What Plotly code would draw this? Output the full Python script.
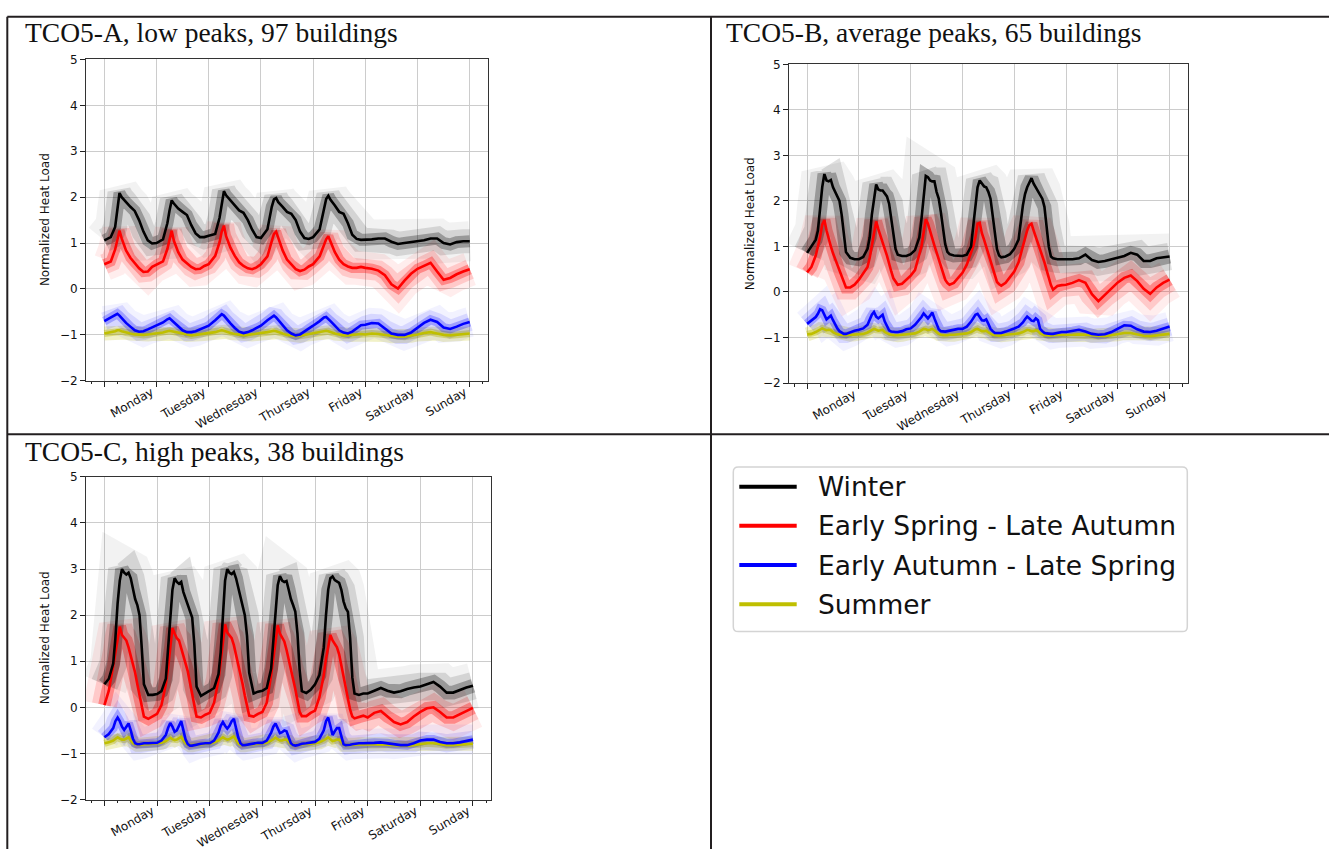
import plotly.graph_objects as go

W, H = 1329, 856

# ---------------- data ----------------
SEASONS = ["Winter", "Early Spring - Late Autumn", "Early Autumn - Late Spring", "Summer"]
DAY_TICKS = [0, 24, 48, 72, 96, 120, 144, 168]
DAY_LABELS = ["", "Monday", "Tuesday", "Wednesday", "Thursday", "Friday", "Saturday", "Sunday"]
Y_TICKS = [-2, -1, 0, 1, 2, 3, 4, 5]
TITLES = ["TCO5-A, low peaks, 97 buildings",
          "TCO5-B, average peaks, 65 buildings",
          "TCO5-C, high peaks, 38 buildings"]

HOURS_A = [0, 3, 5, 6, 7, 8, 10, 12, 14, 16, 18, 20, 22,
           24, 27, 29, 30, 31, 32, 34, 36, 38, 40, 42, 44, 46,
           48, 51, 53, 54, 55, 56, 58, 60, 62, 64, 66, 68, 70,
           72, 75, 77, 78, 79, 80, 82, 84, 86, 88, 90, 92, 94,
           96, 99, 101, 102, 103, 104, 106, 108, 110, 112, 114, 116, 118,
           120, 123, 126, 129, 132, 135, 138, 141, 144, 147, 150, 153, 156, 159, 162, 165, 168]

A_WINTER = [1.06, 1.13, 1.35, 1.75, 2.09, 2.00, 1.89, 1.79, 1.70, 1.50, 1.25, 1.06, 0.99,
            1.00, 1.08, 1.43, 1.71, 1.93, 1.86, 1.75, 1.68, 1.61, 1.39, 1.21, 1.13, 1.13,
            1.16, 1.20, 1.55, 1.90, 2.13, 2.04, 1.93, 1.84, 1.71, 1.66, 1.50, 1.29, 1.13,
            1.11, 1.30, 1.79, 1.95, 1.98, 1.89, 1.79, 1.68, 1.64, 1.50, 1.25, 1.11, 1.09,
            1.13, 1.30, 1.79, 1.96, 2.03, 1.94, 1.82, 1.68, 1.64, 1.43, 1.18, 1.09, 1.07,
            1.07, 1.08, 1.10, 1.10, 1.03, 0.98, 1.00, 1.02, 1.04, 1.06, 1.10, 1.10, 1.00, 0.97, 1.02, 1.04, 1.04]
A_SPRING = [0.54, 0.60, 0.86, 1.08, 1.27, 1.10, 0.84, 0.68, 0.57, 0.45, 0.37, 0.38, 0.48,
            0.53, 0.60, 0.87, 1.10, 1.27, 1.05, 0.80, 0.64, 0.55, 0.48, 0.43, 0.44, 0.50,
            0.54, 0.72, 1.02, 1.25, 1.38, 1.15, 0.90, 0.72, 0.58, 0.50, 0.45, 0.43, 0.47,
            0.54, 0.71, 1.04, 1.20, 1.25, 1.10, 0.84, 0.64, 0.54, 0.43, 0.39, 0.42, 0.49,
            0.54, 0.71, 0.95, 1.08, 1.15, 1.02, 0.80, 0.64, 0.54, 0.49, 0.46, 0.46, 0.48,
            0.46, 0.44, 0.40, 0.30, 0.10, 0.01, 0.18, 0.33, 0.44, 0.50, 0.57, 0.38, 0.20, 0.24, 0.32, 0.38, 0.43]
A_AUTUMN = [-0.70, -0.62, -0.55, -0.54, -0.58, -0.64, -0.74, -0.82, -0.90, -0.93, -0.92, -0.88, -0.84,
            -0.80, -0.73, -0.66, -0.64, -0.68, -0.72, -0.82, -0.90, -0.94, -0.94, -0.92, -0.88, -0.84,
            -0.80, -0.68, -0.58, -0.55, -0.58, -0.64, -0.75, -0.85, -0.93, -0.96, -0.94, -0.90, -0.85,
            -0.80, -0.68, -0.60, -0.58, -0.62, -0.68, -0.80, -0.90, -0.97, -1.01, -0.99, -0.93, -0.86,
            -0.80, -0.70, -0.62, -0.61, -0.65, -0.70, -0.80, -0.90, -0.95, -0.97, -0.93, -0.85, -0.79,
            -0.78, -0.74, -0.75, -0.86, -0.97, -1.00, -1.00, -0.95, -0.85, -0.74, -0.67, -0.72, -0.84, -0.87, -0.82, -0.76, -0.72]
A_SUMMER = [-0.97, -0.95, -0.92, -0.90, -0.90, -0.92, -0.95, -0.97, -0.99, -1.00, -1.00, -0.99, -0.98,
            -0.98, -0.95, -0.92, -0.91, -0.92, -0.93, -0.96, -0.98, -1.00, -1.01, -1.00, -0.99, -0.98,
            -0.97, -0.94, -0.91, -0.90, -0.91, -0.93, -0.96, -0.98, -1.00, -1.01, -1.00, -0.99, -0.98,
            -0.97, -0.94, -0.92, -0.91, -0.92, -0.94, -0.97, -1.00, -1.02, -1.03, -1.02, -1.00, -0.98,
            -0.97, -0.94, -0.92, -0.91, -0.92, -0.94, -0.97, -0.99, -1.01, -1.01, -1.00, -0.99, -0.98,
            -0.99, -0.97, -0.98, -1.00, -1.03, -1.04, -1.04, -1.02, -0.99, -0.96, -0.94, -0.97, -1.00, -1.01, -1.00, -0.98, -0.97]

HOURS_BC = [0, 2, 4, 5, 6, 7, 8, 9, 10, 11, 12, 13, 14, 15, 16, 17, 18, 20, 22,
            24, 26, 28, 29, 30, 31, 32, 33, 34, 35, 36, 37, 38, 39, 40, 41, 42, 44, 46,
            48, 50, 52, 53, 54, 55, 56, 57, 58, 59, 60, 61, 62, 63, 64, 65, 66, 68, 70,
            72, 74, 76, 77, 78, 79, 80, 81, 82, 83, 84, 85, 86, 87, 88, 89, 90, 92, 94,
            96, 98, 100, 101, 102, 103, 104, 105, 106, 107, 108, 109, 110, 111, 112, 113, 114, 116, 118,
            120, 123, 126, 129, 132, 135, 138, 141, 144, 147, 150, 153, 156, 159, 162, 165, 168]

B_WINTER = [0.86, 1.00, 1.15, 1.35, 1.85, 2.30, 2.59, 2.45, 2.43, 2.46, 2.30, 2.20, 2.10, 2.00, 1.70, 1.30, 0.88, 0.75, 0.72,
            0.72, 0.77, 0.95, 1.20, 1.70, 2.05, 2.36, 2.25, 2.23, 2.23, 2.15, 2.10, 1.94, 1.60, 1.30, 0.94, 0.82, 0.79, 0.79,
            0.83, 0.92, 1.20, 1.60, 2.10, 2.55, 2.52, 2.45, 2.43, 2.43, 2.20, 2.05, 1.75, 1.40, 1.05, 0.88, 0.83, 0.80, 0.79,
            0.79, 0.82, 1.00, 1.45, 1.94, 2.30, 2.45, 2.38, 2.32, 2.30, 2.20, 2.05, 1.70, 1.30, 0.94, 0.80, 0.76, 0.78, 0.83,
            0.95, 1.15, 1.90, 2.15, 2.30, 2.40, 2.50, 2.38, 2.30, 2.20, 2.12, 2.05, 1.87, 1.44, 1.00, 0.78, 0.74, 0.72, 0.72,
            0.72, 0.72, 0.74, 0.82, 0.70, 0.66, 0.68, 0.72, 0.75, 0.79, 0.86, 0.82, 0.68, 0.68, 0.74, 0.76, 0.78]
B_SPRING = [0.43, 0.55, 0.80, 0.98, 1.20, 1.48, 1.58, 1.35, 1.15, 1.00, 0.85, 0.72, 0.60, 0.45, 0.35, 0.20, 0.10, 0.10, 0.16,
            0.27, 0.40, 0.55, 0.75, 1.00, 1.30, 1.55, 1.38, 1.22, 1.08, 0.94, 0.80, 0.60, 0.45, 0.30, 0.22, 0.16, 0.18, 0.26,
            0.36, 0.48, 0.80, 1.00, 1.30, 1.60, 1.50, 1.32, 1.15, 1.02, 0.87, 0.72, 0.58, 0.42, 0.27, 0.20, 0.16, 0.20, 0.32,
            0.42, 0.60, 0.85, 1.00, 1.20, 1.50, 1.52, 1.29, 1.15, 1.00, 0.85, 0.70, 0.50, 0.36, 0.22, 0.17, 0.14, 0.20, 0.32,
            0.45, 0.65, 1.02, 1.20, 1.35, 1.47, 1.50, 1.35, 1.22, 1.08, 0.94, 0.80, 0.65, 0.48, 0.32, 0.15, 0.05, 0.13, 0.15,
            0.16, 0.20, 0.26, 0.20, -0.05, -0.20, -0.07, 0.07, 0.21, 0.31, 0.36, 0.24, 0.07, -0.04, 0.10, 0.20, 0.27]
B_AUTUMN = [-0.70, -0.62, -0.55, -0.48, -0.38, -0.40, -0.50, -0.60, -0.56, -0.52, -0.62, -0.72, -0.80, -0.86, -0.90, -0.92, -0.92, -0.88, -0.85,
            -0.83, -0.80, -0.72, -0.60, -0.50, -0.44, -0.54, -0.58, -0.54, -0.50, -0.65, -0.75, -0.84, -0.87, -0.88, -0.88, -0.88, -0.86, -0.82,
            -0.80, -0.72, -0.62, -0.55, -0.47, -0.52, -0.58, -0.52, -0.45, -0.58, -0.72, -0.82, -0.86, -0.87, -0.87, -0.86, -0.85, -0.83, -0.81,
            -0.81, -0.76, -0.65, -0.58, -0.50, -0.48, -0.55, -0.62, -0.63, -0.60, -0.70, -0.81, -0.86, -0.90, -0.90, -0.90, -0.90, -0.87, -0.84,
            -0.80, -0.76, -0.67, -0.60, -0.54, -0.58, -0.63, -0.64, -0.58, -0.62, -0.81, -0.86, -0.90, -0.91, -0.92, -0.92, -0.92, -0.90, -0.88,
            -0.88, -0.86, -0.83, -0.87, -0.92, -0.94, -0.93, -0.88, -0.81, -0.73, -0.74, -0.82, -0.87, -0.88, -0.85, -0.80, -0.76]
B_SUMMER = [-0.93, -0.92, -0.88, -0.85, -0.82, -0.80, -0.82, -0.84, -0.83, -0.84, -0.88, -0.91, -0.93, -0.94, -0.95, -0.95, -0.95, -0.94, -0.93,
            -0.93, -0.92, -0.89, -0.86, -0.83, -0.81, -0.83, -0.85, -0.84, -0.83, -0.88, -0.91, -0.93, -0.94, -0.95, -0.95, -0.95, -0.94, -0.93,
            -0.93, -0.91, -0.87, -0.84, -0.81, -0.82, -0.84, -0.83, -0.81, -0.84, -0.89, -0.92, -0.94, -0.95, -0.95, -0.95, -0.94, -0.94, -0.93,
            -0.93, -0.91, -0.88, -0.85, -0.82, -0.81, -0.84, -0.86, -0.86, -0.85, -0.89, -0.92, -0.94, -0.95, -0.96, -0.96, -0.95, -0.94, -0.93,
            -0.93, -0.91, -0.88, -0.85, -0.83, -0.84, -0.86, -0.86, -0.84, -0.86, -0.91, -0.93, -0.95, -0.95, -0.96, -0.96, -0.95, -0.95, -0.94,
            -0.94, -0.94, -0.93, -0.94, -0.96, -0.97, -0.97, -0.95, -0.93, -0.90, -0.90, -0.93, -0.96, -0.97, -0.95, -0.93, -0.92]

C_WINTER = [0.50, 0.62, 0.95, 1.50, 2.25, 2.75, 3.00, 2.92, 2.88, 2.92, 2.80, 2.55, 2.35, 2.22, 2.00, 1.30, 0.50, 0.27, 0.27,
            0.29, 0.35, 0.62, 1.25, 2.00, 2.55, 2.80, 2.72, 2.68, 2.72, 2.50, 2.35, 2.22, 2.10, 1.95, 1.35, 0.45, 0.25, 0.30,
            0.36, 0.42, 0.72, 1.20, 2.05, 2.75, 3.00, 2.92, 2.89, 2.94, 2.80, 2.60, 2.38, 2.20, 2.00, 1.55, 0.75, 0.30, 0.34,
            0.36, 0.42, 0.84, 1.45, 2.10, 2.65, 2.85, 2.75, 2.72, 2.74, 2.55, 2.35, 2.22, 2.08, 1.60, 0.80, 0.35, 0.31, 0.38,
            0.50, 0.70, 1.30, 2.00, 2.55, 2.80, 2.84, 2.76, 2.72, 2.70, 2.55, 2.30, 2.15, 2.07, 1.50, 0.65, 0.30, 0.27, 0.30,
            0.30, 0.36, 0.42, 0.36, 0.32, 0.35, 0.40, 0.43, 0.45, 0.50, 0.55, 0.45, 0.32, 0.32, 0.38, 0.43, 0.47]
C_SPRING = [0.05, 0.36, 0.90, 1.20, 1.55, 1.75, 1.57, 1.52, 1.45, 1.30, 1.12, 0.93, 0.75, 0.50, 0.25, -0.03, -0.20, -0.25, -0.20,
            -0.14, 0.05, 0.50, 0.85, 1.27, 1.72, 1.60, 1.50, 1.45, 1.30, 1.15, 0.95, 0.78, 0.55, 0.30, 0.03, -0.20, -0.22, -0.16,
            -0.12, 0.10, 0.60, 1.00, 1.45, 1.80, 1.62, 1.55, 1.50, 1.35, 1.15, 0.95, 0.72, 0.50, 0.25, 0.00, -0.18, -0.20, -0.14,
            -0.10, 0.10, 0.70, 1.10, 1.50, 1.78, 1.60, 1.52, 1.43, 1.25, 1.05, 0.85, 0.62, 0.40, 0.15, -0.10, -0.19, -0.19, -0.12,
            -0.07, 0.22, 0.70, 1.05, 1.35, 1.57, 1.45, 1.38, 1.30, 1.15, 0.90, 0.65, 0.45, 0.20, -0.05, -0.20, -0.24, -0.21, -0.18,
            -0.22, -0.12, -0.08, -0.20, -0.32, -0.37, -0.32, -0.20, -0.10, -0.02, 0.00, -0.10, -0.22, -0.22, -0.15, -0.07, -0.01]
C_AUTUMN = [-0.65, -0.58, -0.45, -0.30, -0.22, -0.30, -0.42, -0.49, -0.42, -0.35, -0.50, -0.68, -0.78, -0.80, -0.80, -0.79, -0.78, -0.78, -0.77,
            -0.77, -0.72, -0.60, -0.45, -0.34, -0.42, -0.53, -0.50, -0.40, -0.30, -0.50, -0.70, -0.80, -0.83, -0.83, -0.82, -0.80, -0.79, -0.78,
            -0.78, -0.72, -0.55, -0.40, -0.32, -0.40, -0.46, -0.40, -0.30, -0.25, -0.45, -0.65, -0.78, -0.82, -0.82, -0.81, -0.80, -0.78, -0.77,
            -0.77, -0.72, -0.55, -0.42, -0.35, -0.45, -0.56, -0.54, -0.50, -0.52, -0.65, -0.78, -0.82, -0.83, -0.82, -0.80, -0.79, -0.78, -0.76,
            -0.75, -0.68, -0.50, -0.30, -0.22, -0.40, -0.60, -0.52, -0.45, -0.45, -0.65, -0.80, -0.82, -0.82, -0.81, -0.80, -0.79, -0.78, -0.78,
            -0.78, -0.77, -0.76, -0.78, -0.80, -0.82, -0.82, -0.78, -0.72, -0.70, -0.70, -0.75, -0.78, -0.78, -0.76, -0.73, -0.70]
C_SUMMER = [-0.78, -0.76, -0.72, -0.68, -0.65, -0.68, -0.70, -0.70, -0.68, -0.65, -0.72, -0.78, -0.80, -0.81, -0.81, -0.81, -0.80, -0.80, -0.79,
            -0.79, -0.77, -0.73, -0.69, -0.66, -0.69, -0.71, -0.70, -0.67, -0.64, -0.72, -0.78, -0.81, -0.82, -0.82, -0.81, -0.81, -0.80, -0.79,
            -0.79, -0.76, -0.72, -0.68, -0.65, -0.68, -0.70, -0.69, -0.66, -0.63, -0.71, -0.78, -0.81, -0.82, -0.82, -0.81, -0.80, -0.80, -0.79,
            -0.79, -0.77, -0.72, -0.68, -0.66, -0.69, -0.72, -0.72, -0.70, -0.70, -0.75, -0.80, -0.82, -0.82, -0.82, -0.81, -0.80, -0.80, -0.79,
            -0.78, -0.76, -0.71, -0.67, -0.65, -0.69, -0.73, -0.72, -0.70, -0.70, -0.76, -0.81, -0.82, -0.82, -0.82, -0.81, -0.81, -0.80, -0.80,
            -0.80, -0.80, -0.80, -0.81, -0.82, -0.83, -0.83, -0.82, -0.80, -0.78, -0.78, -0.80, -0.82, -0.82, -0.81, -0.80, -0.79]

for arr in (A_WINTER, A_SPRING, A_AUTUMN, A_SUMMER):
    assert len(arr) == len(HOURS_A), len(arr)
for arr in (B_WINTER, B_SPRING, B_AUTUMN, B_SUMMER, C_WINTER, C_SPRING, C_AUTUMN, C_SUMMER):
    assert len(arr) == len(HOURS_BC), len(arr)

# ---------------- styling ----------------
COLORS = ["#000000", "#ff0000", "#0000ff", "#bfbf00"]
CLOUD_RGB = ["0,0,0", "255,0,0", "0,0,255", "191,191,0"]
# (relative width, alpha) layers used to suggest the spread of individual buildings
CLOUD_LAYERS = [
    [(1.0, 0.05), (0.6, 0.12), (0.3, 0.28)],
    [(1.0, 0.07), (0.6, 0.15), (0.3, 0.32)],
    [(1.0, 0.05), (0.6, 0.11), (0.3, 0.26)],
    [(1.0, 0.22), (0.5, 0.40)],
]


def px(x):
    return x / W


def py(y):
    return 1 - y / H


PANELS = [
    dict(hours=HOURS_A, series=[A_WINTER, A_SPRING, A_AUTUMN, A_SUMMER],
         box=(86, 488, 53.3, 380), cloud=[40, 34, 30, 14],
         title_xy=(22.5, 26.2), ylab_x=45),
    dict(hours=HOURS_BC, series=[B_WINTER, B_SPRING, B_AUTUMN, B_SUMMER],
         box=(789, 1187.7, 58.3, 382.3), cloud=[46, 40, 30, 14],
         title_xy=(724, 26.2), ylab_x=749.5),
    dict(hours=HOURS_BC, series=[C_WINTER, C_SPRING, C_AUTUMN, C_SUMMER],
         box=(86, 491.4, 477.7, 805.7), cloud=[46, 42, 30, 14],
         title_xy=(22.5, 452.3), ylab_x=45),
]

fig = go.Figure()
layout_axes = {}
annotations = []
FONT = "DejaVu Sans"

for i, p in enumerate(PANELS):
    sfx = "" if i == 0 else str(i + 1)
    xa, ya = "x" + sfx, "y" + sfx
    x0, x1, y0, y1 = p["box"]
    for s in [3, 2, 1, 0]:
        for rel, a in CLOUD_LAYERS[s]:
            fig.add_trace(go.Scatter(
                x=p["hours"], y=p["series"][s], mode="lines", xaxis=xa, yaxis=ya,
                line=dict(color=f"rgba({CLOUD_RGB[s]},{a})", width=p["cloud"][s] * rel),
                hoverinfo="skip", showlegend=False))
    for s in [3, 2, 1, 0]:
        fig.add_trace(go.Scatter(
            x=p["hours"], y=p["series"][s], mode="lines", xaxis=xa, yaxis=ya,
            name=SEASONS[s], line=dict(color=COLORS[s], width=2.6),
            showlegend=False))

    layout_axes["xaxis" + sfx] = dict(
        domain=[px(x0), px(x1)], anchor=ya, range=[-8.4, 176.4],
        tickmode="array", tickvals=DAY_TICKS, ticktext=DAY_LABELS, tickangle=-30,
        ticks="outside", ticklen=5, tickwidth=1, tickcolor="#222",
        ticklabelstandoff=-6, ticklabelshift=-5,
        showline=True, linecolor="#333", linewidth=1, mirror=True,
        showgrid=True, gridcolor="#cccccc", gridwidth=1.2, zeroline=False,
        tickfont=dict(family=FONT, size=12, color="#111"),
        minor=dict(tickmode="linear", tick0=0, dtick=6, ticks="outside",
                   ticklen=2.5, tickcolor="#222", showgrid=False),
    )
    layout_axes["yaxis" + sfx] = dict(
        domain=[py(y1), py(y0)], anchor=xa, range=[-2, 5],
        tickmode="array", tickvals=Y_TICKS,
        ticks="outside", ticklen=5, tickwidth=1, tickcolor="#222",
        showline=True, linecolor="#333", linewidth=1, mirror=True,
        showgrid=True, gridcolor="#cccccc", gridwidth=1.2, zeroline=False,
        tickfont=dict(family=FONT, size=12, color="#111"),
    )
    annotations.append(dict(
        text=TITLES[i], xref="paper", yref="paper",
        x=px(p["title_xy"][0]), y=py(p["title_xy"][1]),
        xanchor="left", yanchor="middle", showarrow=False,
        font=dict(family="Liberation Serif", size=27.5, color="#111")))
    annotations.append(dict(
        text="Normalized Heat Load", xref="paper", yref="paper",
        x=px(p["ylab_x"]), y=py((y0 + y1) / 2), textangle=-90,
        xanchor="center", yanchor="middle", showarrow=False,
        font=dict(family=FONT, size=12, color="#111")))

# ---------------- table frame ----------------
shapes = []
frame = [((7.3, 10), (W, 10)), ((7.3, 10), (7.3, H)), ((711, 10), (711, H)), ((7.3, 434.4), (W, 434.4))]
for (ax, ay), (bx, by) in frame:
    shapes.append(dict(type="line", xref="paper", yref="paper",
                       x0=px(ax), y0=py(ay), x1=px(bx), y1=py(by),
                       line=dict(color="#231f20", width=2)))

# ---------------- legend panel ----------------
lx0, lx1, ly0, ly1, r = 733.3, 1187.3, 467.7, 635.0, 5
path = (f"M {px(lx0 + r)},{py(ly0)} L {px(lx1 - r)},{py(ly0)} "
        f"Q {px(lx1)},{py(ly0)} {px(lx1)},{py(ly0 + r)} "
        f"L {px(lx1)},{py(ly1 - r)} Q {px(lx1)},{py(ly1)} {px(lx1 - r)},{py(ly1)} "
        f"L {px(lx0 + r)},{py(ly1)} Q {px(lx0)},{py(ly1)} {px(lx0)},{py(ly1 - r)} "
        f"L {px(lx0)},{py(ly0 + r)} Q {px(lx0)},{py(ly0)} {px(lx0 + r)},{py(ly0)} Z")
shapes.append(dict(type="path", xref="paper", yref="paper", path=path,
                   line=dict(color="#d4d4d4", width=1.5), fillcolor="white"))
LEG_Y = [487.7, 527.3, 567.3, 607.3]
for s in range(4):
    shapes.append(dict(type="line", xref="paper", yref="paper",
                       x0=px(739.3), x1=px(796.7), y0=py(LEG_Y[s]), y1=py(LEG_Y[s]),
                       line=dict(color=COLORS[s], width=4)))
    annotations.append(dict(
        text=SEASONS[s], xref="paper", yref="paper", x=px(815.5), y=py(LEG_Y[s]),
        xanchor="left", yanchor="middle", showarrow=False,
        font=dict(family=FONT, size=26.5, color="#111")))

fig.update_layout(
    width=W, height=H, margin=dict(l=0, r=0, t=0, b=0),
    paper_bgcolor="white", plot_bgcolor="white", showlegend=False,
    shapes=shapes, annotations=annotations, **layout_axes)

fig.write_html("out.html", config={"displayModeBar": False},
               post_script="document.body.style.margin='0';document.body.style.overflow='hidden';")
